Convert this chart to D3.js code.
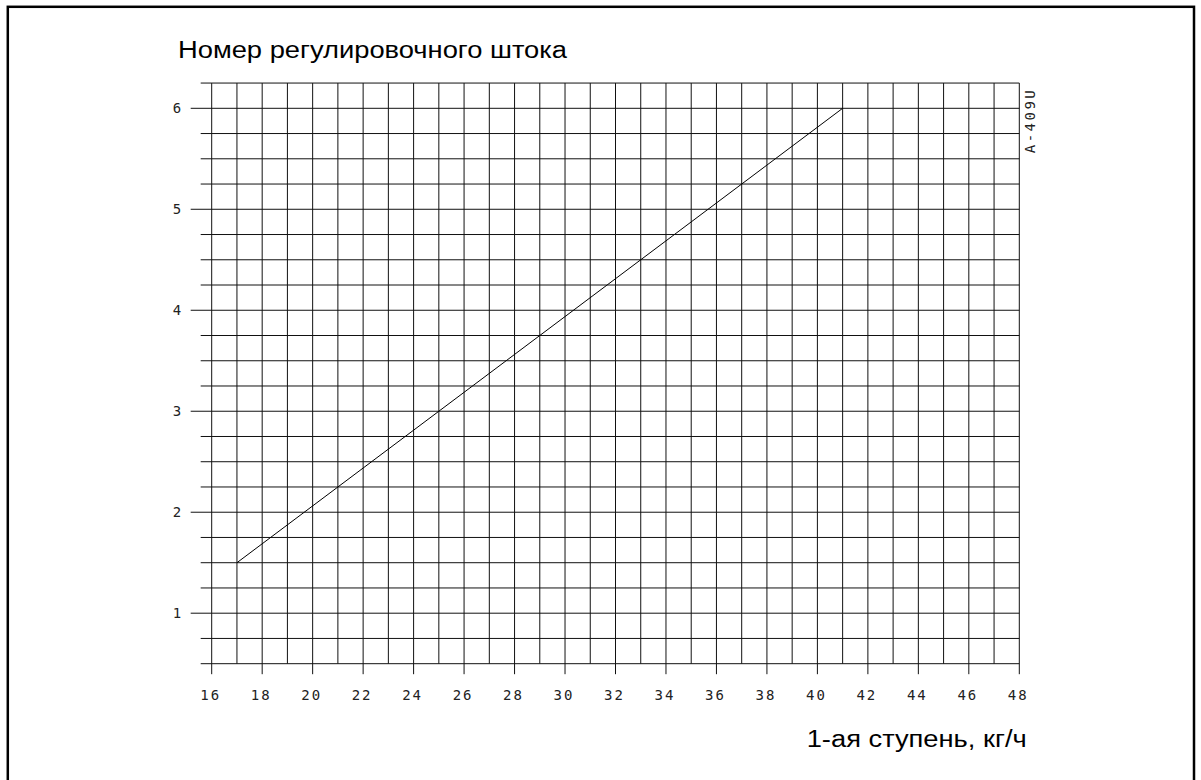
<!DOCTYPE html>
<html>
<head>
<meta charset="utf-8">
<script src="https://d3js.org/d3.v7.min.js"></script>
<style>
  html, body { margin: 0; padding: 0; background: #fff; }
  svg { display: block; }
</style>
</head>
<body>
<svg id="chart" width="1201" height="780"></svg>
<script>
// ---- data ----
const title = "Номер регулировочного штока";
const xTitle = "1-ая ступень, кг/ч";
const codeLabel = "A-409U";
const xTickValues = [16, 18, 20, 22, 24, 26, 28, 30, 32, 34, 36, 38, 40, 42, 44, 46, 48];
const yTickValues = [1, 2, 3, 4, 5, 6];
const xGridValues = d3.range(16, 48.001, 1);
const yGridValues = d3.range(0.5, 6.2501, 0.25);
const lineX = [17, 41];
const lineY = [1.5, 6];

const svg = d3.select("#chart");

// frame
svg.append("rect")
  .attr("x", 7.8).attr("y", 6.8)
  .attr("width", 1194 - 7.8).attr("height", 800)
  .attr("fill", "none").attr("stroke", "#000").attr("stroke-width", 2.5);

const x = d3.scaleLinear().domain([16, 48]).range([211.7, 1019.3]);
const y = d3.scaleLinear().domain([1, 6]).range([613.2, 108.3]);

const g = svg.append("g");

// horizontal grid lines
g.selectAll("line.h").data(yGridValues).enter().append("line")
  .attr("class", "h")
  .attr("x1", d => Number.isInteger(d) ? x(16) - 21 : x(16) - 11)
  .attr("x2", x(48))
  .attr("y1", d => y(d)).attr("y2", d => y(d))
  .attr("stroke", "#111").attr("stroke-width", 1);

// vertical grid lines
g.selectAll("line.v").data(xGridValues).enter().append("line")
  .attr("class", "v")
  .attr("x1", d => x(d)).attr("x2", d => x(d))
  .attr("y1", y(6.25))
  .attr("y2", d => d % 2 === 0 ? y(0.5) + 10.5 : y(0.5))
  .attr("stroke", "#111").attr("stroke-width", 1);

// tick labels x
const tickFont = "'DejaVu Sans Mono', monospace";
g.selectAll("text.xt").data(xTickValues).enter().append("text")
  .attr("x", d => x(d) - 1)
  .attr("y", 699.5)
  .attr("text-anchor", "middle")
  .attr("font-family", tickFont)
  .attr("font-size", 14)
  .attr("letter-spacing", 2)
  .attr("fill", "#222")
  .text(d => d);

// tick labels y
g.selectAll("text.yt").data(yTickValues).enter().append("text")
  .attr("x", 177)
  .attr("y", d => y(d) + 5)
  .attr("text-anchor", "middle")
  .attr("font-family", tickFont)
  .attr("font-size", 14)
  .attr("fill", "#222")
  .text(d => d);

// data line
const line = d3.line().x(d => x(d[0])).y(d => y(d[1]));
g.append("path")
  .datum(lineX.map((v, i) => [v, lineY[i]]))
  .attr("d", line)
  .attr("fill", "none")
  .attr("stroke", "#000")
  .attr("stroke-width", 1);

// titles
svg.append("text")
  .attr("x", 178).attr("y", 58)
  .attr("font-family", "'Liberation Sans', Arial, sans-serif")
  .attr("font-size", 23)
  .attr("textLength", 389)
  .attr("lengthAdjust", "spacingAndGlyphs")
  .attr("fill", "#000")
  .text(title);

svg.append("text")
  .attr("x", 806.7).attr("y", 747)
  .attr("font-family", "'Liberation Sans', Arial, sans-serif")
  .attr("font-size", 23)
  .attr("textLength", 220)
  .attr("lengthAdjust", "spacingAndGlyphs")
  .attr("fill", "#000")
  .text(xTitle);

// rotated code label
svg.append("text")
  .attr("transform", "translate(1035,120.5) rotate(-90)")
  .attr("text-anchor", "middle")
  .attr("font-family", tickFont)
  .attr("font-size", 14)
  .attr("letter-spacing", 2.5)
  .attr("fill", "#222")
  .text(codeLabel);
</script>
</body>
</html>
